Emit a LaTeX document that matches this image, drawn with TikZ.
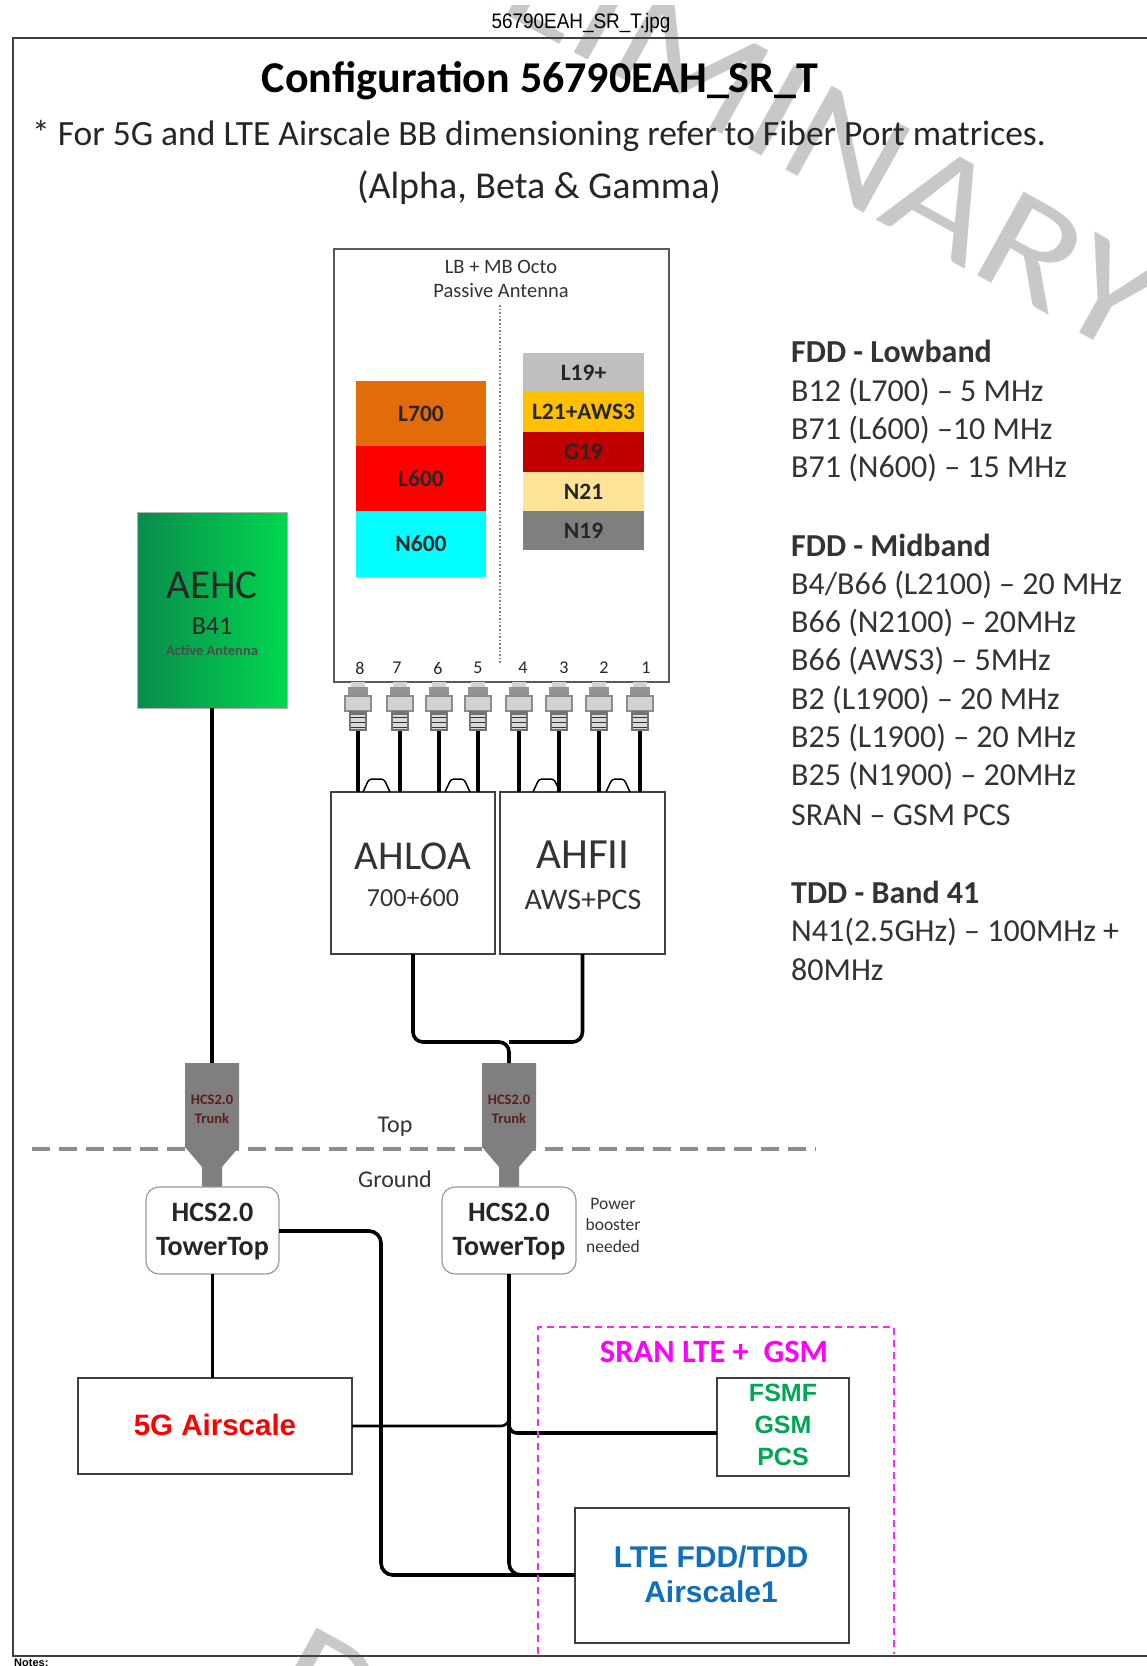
\documentclass[tikz,border=0pt]{standalone}
\usepackage{fontspec}
\setmainfont{Carlito}
\newfontfamily\arialf{Liberation Sans}
\usetikzlibrary{calc}
\definecolor{wm}{HTML}{C8C8C8}
\definecolor{trunkgray}{HTML}{7F7F7F}
\definecolor{boxline}{HTML}{404040}
\definecolor{pureMagenta}{RGB}{255,0,255}
\definecolor{pureCyan}{RGB}{0,255,255}
\newcommand{\fs}[1]{\fontsize{#1}{#1}\selectfont}
\tikzset{
  x=1pt,y=-1pt,
  plainbox/.style={draw=boxline,line width=2pt,fill=white,inner sep=0pt,outer sep=0pt,align=center,anchor=north west},
  band/.style={inner sep=0pt,outer sep=0pt,anchor=north west},
  bandtext/.style={inner sep=0pt,font=\bfseries\fs{23.5},text=black!85},
  tower/.style={draw=gray!80,line width=1.2pt,fill=white,rounded corners=13pt,inner sep=0pt,outer sep=0pt,minimum width=133pt,minimum height=87pt},
  towertext/.style={inner sep=0pt,align=center,font=\bfseries\fs{28},text=black!85},
  cable/.style={line width=3.6pt,black},
  thincable/.style={line width=3.2pt,black},
  jumper/.style={line width=1.5pt,black,rounded corners=3pt},
  label/.style={inner sep=0pt,align=center,text=black!80},
  spec/.style={inner sep=0pt,anchor=west,font=\fs{32},text=black!80},
  spechead/.style={spec,font=\bfseries\fs{32}},
  watermark/.style={inner sep=0pt,text=wm,font=\fs{149}},
}
\begin{document}
\begin{tikzpicture}
\useasboundingbox (0,0) rectangle (1147,1666);
\begin{scope}
\clip (0,5) rectangle (1147,1666);
\node[watermark,rotate=-29,xscale=1.2,anchor=base east] (wmtop) at (1125,358) {PRELIMINARY};
\node[watermark,rotate=-29,xscale=1.2,anchor=base west] (wmbot) at (259,1705) {PRELIMINARY};
\end{scope}

\node[inner sep=0pt,font=\arialf\fs{21},xscale=.9] (fname) at (581,23) {56790EAH\_SR\_T.jpg};
\draw[line width=2pt,boxline] (1147,38) -- (13,38) -- (13,1656) -- (1147,1656);
\node[inner sep=0pt,anchor=west,font=\arialf\bfseries\fs{11}] (notes) at (14,1663) {Notes:};

\node[inner sep=0pt,font=\bfseries\fs{44}] (title) at (540,81) {Configuration 56790EAH\_SR\_T};
\node[inner sep=0pt,anchor=west,font=\fs{35.5},text=black!85] (sub1) at (32,136) {* For 5G and LTE Airscale BB dimensioning refer to Fiber Port matrices.};
\node[inner sep=0pt,font=\fs{38},text=black!85] (sub2) at (539,188) {(Alpha, Beta \& Gamma)};

% Antenna
\node[plainbox,draw=gray!70!black,minimum width=335pt,minimum height=433pt] (ant) at (334,249) {};
\node[label,font=\fs{20.5}] (antlabel) at (501,279) {LB + MB Octo\\[3pt]Passive Antenna};
\coordinate (divtop) at (500,305);
\coordinate (divbot) at (500,663);
\draw[line width=1.6pt,gray,dotted] (divtop) -- (divbot);

\node[band,fill={rgb,255:red,227;green,108;blue,10},minimum width=130pt,minimum height=65pt] (l700) at (356,381) {}; \node[bandtext] at (l700) {L700};
\node[band,fill=red,minimum width=130pt,minimum height=65pt] (l600) at (356,446) {}; \node[bandtext] at (l600) {L600};
\node[band,fill=pureCyan,minimum width=130pt,minimum height=66pt] (n600) at (356,511) {}; \node[bandtext] at (n600) {N600};

\node[band,fill={rgb,255:red,191;green,191;blue,191},minimum width=121pt,minimum height=39pt] (l19) at (523,353) {}; \node[bandtext] at (l19) {L19+};
\node[band,fill={rgb,255:red,255;green,192;blue,0},minimum width=121pt,minimum height=40pt] (l21) at (523,392) {}; \node[bandtext] at (l21) {L21+AWS3};
\node[band,fill={rgb,255:red,192;green,0;blue,0},minimum width=121pt,minimum height=40pt] (g19) at (523,432) {}; \node[bandtext] at (g19) {G19};
\node[band,fill={rgb,255:red,255;green,227;blue,153},minimum width=121pt,minimum height=39pt] (n21) at (523,472) {}; \node[bandtext] at (n21) {N21};
\node[band,fill={rgb,255:red,127;green,127;blue,127},minimum width=121pt,minimum height=39pt] (n19) at (523,511) {}; \node[bandtext] at (n19) {N19};

% Radios
\node[plainbox,minimum width=164pt,minimum height=162pt] (ahloa) at (331,792) {};
\node[plainbox,minimum width=165pt,minimum height=162pt] (ahfii) at (500,792) {};
\node[label,font=\fs{41}] at (413,856) {AHLOA};
\node[label,font=\fs{26}] at (413,898) {700+600};
\node[label,font=\fs{43}] at (583,855) {AHFII};
\node[label,font=\fs{30}] at (583,900) {AWS+PCS};

% Port numbers, connectors, cables
\foreach \n/\lx/\cx/\bx in {8/360/358/358,7/397/400/400,6/438/439/439,5/478/478/478,4/523/519/519,3/564/559/559,2/604/599/599,1/646/640/640}{
  \node[label,font=\fs{18},text=black!85] (num\n) at (\lx,668) {\n};
  \fill[gray!35] (\cx-7,682) rectangle (\cx+7,687);
  \fill[gray!85] (\cx-10,687) rectangle (\cx+10,696);
  \draw[gray!90,fill=gray!35,line width=1.2pt] (\cx-13,696) rectangle (\cx+13,711);
  \fill[gray!90!black] (\cx-9,711) rectangle (\cx+9,731);
  \fill[gray!30] (\cx-7,715) rectangle (\cx+7,729);
  \draw[black!80,line width=1pt] (\cx-7,717) -- (\cx+7,717) (\cx-7,722) -- (\cx+7,722) (\cx-7,727) -- (\cx+7,727);
  \coordinate (top\n) at (\cx,731);
  \coordinate (bot\n) at (\bx,792);
  \draw[thincable] (top\n) -- (bot\n);
}
\foreach \a/\b in {363/390,445/470,533/560,606/630}{
  \coordinate (ja) at (\a,792); \coordinate (jb) at (\b,792);
  \draw[jumper] (ja) -- ++(6,-13) -- ($(jb)+(-6,-13)$) -- (jb);
}

% AEHC
\node[inner sep=0pt,outer sep=0pt,anchor=north west,minimum width=150pt,minimum height=196pt,draw=gray!60,left color={rgb,255:red,10;green,140;blue,75},right color={rgb,255:red,0;green,214;blue,80}] (aehc) at (137,512) {};
\node[label,font=\fs{41},text=black!85] at (212,585) {AEHC};
\node[label,font=\fs{26},text=black!85] at (212,626) {B41};
\node[label,font=\bfseries\fs{14.5},text=black!70] at (212,650) {Active Antenna};

% dashed separator
\coordinate (sepL) at (32,1149);
\coordinate (sepR) at (816,1149);
\draw[line width=4pt,gray!90,dash pattern=on 18pt off 9pt] (sepL) -- (sepR);

% Trunks
\foreach \c/\w/\nm in {212/27/trunkA,509/27/trunkB}{
  \fill[trunkgray] (\c-\w,1063) -- (\c+\w,1063) -- (\c+\w,1147) -- (\c+10,1167) -- (\c+10,1190) -- (\c-10,1190) -- (\c-10,1167) -- (\c-\w,1147) -- cycle;
  \coordinate (\nm) at (\c,1063);
  \node[label,font=\bfseries\fs{14.5},text={rgb,255:red,90;green,30;blue,30}] at (\c,1109.5) {HCS2.0\\[4pt]Trunk};
}

% Towers
\node[tower] (tower1) at (212.5,1230.5) {};
\node[towertext] at (212.5,1231.5) {HCS2.0\\[6pt]TowerTop};
\node[tower,minimum width=134pt] (tower2) at (509,1230.5) {};
\node[towertext] at (509,1231.5) {HCS2.0\\[6pt]TowerTop};

\node[label,font=\fs{24}] (toplbl) at (395,1127) {Top};
\node[label,font=\fs{24}] (gndlbl) at (395,1179) {Ground};
\node[label,font=\fs{17.5}] (booster) at (613,1225) {Power\\[4pt]booster\\[4pt]needed};

% Connectors top
\draw[cable] (aehc.south) -- (trunkA);
\coordinate (forkB) at (509,1042);
\draw[cable,rounded corners=10pt] (ahloa.south) |- (forkB) -- (trunkB);
\draw[cable,rounded corners=10pt] (ahfii.south) |- (forkB);

% Bottom boxes
\node[plainbox,minimum width=274pt,minimum height=96pt] (fiveg) at (78,1378) {};
\node[inner sep=0pt,font=\arialf\bfseries\fs{29.5},text=red] at (215,1425) {5G Airscale};
\node[plainbox,minimum width=132pt,minimum height=98pt] (fsmf) at (717,1378) {};
\node[inner sep=0pt,align=center,font=\arialf\bfseries\fs{25},text={rgb,255:red,0;green,166;blue,81}] at (783,1425) {FSMF\\[7pt]GSM\\[7pt]PCS};
\node[plainbox,minimum width=274pt,minimum height=135pt] (lte) at (575,1508) {};
\node[inner sep=0pt,align=center,font=\arialf\bfseries\fs{30},text={rgb,255:red,15;green,110;blue,190}] at (711,1574) {LTE FDD/TDD\\[5pt]Airscale1};

% Connectors bottom
\coordinate (t1r) at (279,1231);
\coordinate (t1c) at (381,1231);
\coordinate (lteL) at (575,1575);
\coordinate (bend1) at (381,1575);
\draw[cable,rounded corners=12pt] (t1r) -- (t1c) -- (bend1) -- (lteL);
\draw[cable] (tower1.south) -- (tower1.south |- fiveg.north);
\coordinate (t2d) at (509,1575);
\draw[cable,rounded corners=12pt] (tower2.south) -- (t2d) -- (lteL);
\coordinate (j5g) at (509,1426);
\coordinate (jf) at (509,1433);
\coordinate (f5g) at (352,1426);
\coordinate (ffs) at (717,1433);
\coordinate (jtop) at (509,1414);
\coordinate (jtop2) at (509,1418);
\draw[line width=2.6pt,rounded corners=8pt] (f5g) -- (j5g) -- (jtop);
\draw[cable,rounded corners=8pt] (jtop2) -- (jf) -- (ffs);

% SRAN group
\coordinate (sa) at (538,1654);
\coordinate (sb) at (538,1327);
\coordinate (sc) at (894,1327);
\coordinate (sd) at (894,1654);
\draw[pureMagenta!85,line width=1.4pt,dash pattern=on 7pt off 5pt] (sa) -- (sb) -- (sc) -- (sd);
\node[inner sep=0pt,font=\bfseries\fs{32.5},text=pureMagenta] (sran) at (714,1352) {SRAN LTE +\ \ GSM};

% Spec list
\node[spechead] (h1) at (791,351) {FDD - Lowband};
\node[spec] at (791,392) {B12 (L700) – 5 MHz};
\node[spec] at (791,430) {B71 (L600) –10 MHz};
\node[spec] at (791,468) {B71 (N600) – 15 MHz};
\node[spechead] (h2) at (791,545) {FDD - Midband};
\node[spec] at (791,585) {B4/B66 (L2100) – 20 MHz};
\node[spec] at (791,623) {B66 (N2100) – 20MHz};
\node[spec] at (791,661) {B66 (AWS3) – 5MHz};
\node[spec] at (791,700) {B2 (L1900) – 20 MHz};
\node[spec] at (791,738) {B25 (L1900) – 20 MHz};
\node[spec] at (791,776) {B25 (N1900) – 20MHz};
\node[spec] at (791,815) {SRAN – GSM PCS};
\node[spechead] (h3) at (791,892) {TDD - Band 41};
\node[spec] at (791,932) {N41(2.5GHz) – 100MHz +};
\node[spec] at (791,970) {80MHz};
\end{tikzpicture}
\end{document}
